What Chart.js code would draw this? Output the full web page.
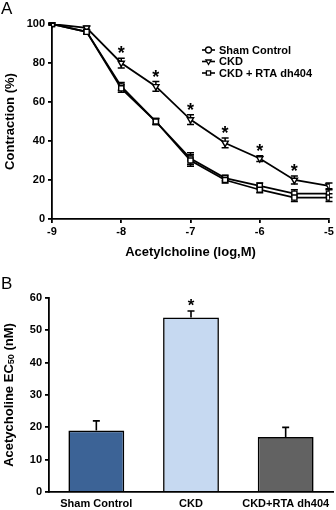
<!DOCTYPE html>
<html><head><meta charset="utf-8">
<script src="https://cdn.jsdelivr.net/npm/chart.js@4"></script>
<style>
html,body{margin:0;padding:0;background:#fff;}
body{width:336px;height:510px;position:relative;overflow:hidden;font-family:"Liberation Sans",Arial,sans-serif;}
#wa{position:absolute;left:0;top:0;width:336px;height:262px;}
#wb{position:absolute;left:0;top:262px;width:336px;height:248px;}
.lab{position:absolute;font-size:17px;color:#000;line-height:1;}
</style></head><body>
<div id="wa"><canvas id="ca"></canvas></div>
<div id="wb"><canvas id="cb"></canvas></div>
<div class="lab" style="left:1px;top:0px;">A</div>
<div class="lab" style="left:1px;top:275px;">B</div>
<script>
// ---- Panel A data ----
const xVals = [-9, -8.5, -8, -7.5, -7, -6.5, -6, -5.5, -5];
const shamVals = [100, 96, 67, 50, 30, 20, 15, 11, 11];
const shamErr = [0.5, 1, 2, 1.5, 3, 1.5, 1.5, 2, 2];
const ckdVals = [100, 98, 80, 68, 51, 39, 31, 20, 17];
const ckdErr = [0.5, 1, 2.5, 2.5, 2.5, 2.5, 1.5, 2, 1.5];
const rtaVals = [100, 96, 68, 50, 31, 21, 17, 13, 13];
const rtaErr = [0.5, 1, 2, 1.5, 3, 1.5, 1.5, 2, 2];
const ckdSig = [0, 0, 1, 1, 1, 1, 1, 1, 0];
const seriesNames = ['Sham Control', 'CKD', 'CKD + RTA dh404'];
const xTicks = [-9, -8, -7, -6, -5];
const yTicksA = [0, 20, 40, 60, 80, 100];
// ---- Panel B data ----
const groups = ['Sham Control', 'CKD', 'CKD+RTA dh404'];
const ec50 = [19, 54, 17];
const ec50Err = [3, 2, 3];
const ec50Sig = [0, 1, 0];

const FONT = '"Liberation Sans", Arial, sans-serif';
Chart.defaults.font.family = FONT;
Chart.defaults.color = '#000';

const pts = v => xVals.map((x, i) => ({x, y: v[i]}));
const legendStyles = [['circle', 0], ['triangle', 180], ['rect', 0]];

const errorBarsA = {
  id: 'errA',
  beforeDatasetsDraw(chart) {
    const ctx = chart.ctx, ys = chart.scales.y;
    ctx.save();
    ctx.strokeStyle = '#000'; ctx.lineWidth = 1.5;
    chart.data.datasets.forEach((ds, di) => {
      const meta = chart.getDatasetMeta(di);
      meta.data.forEach((p, i) => {
        const v = ds.data[i].y, e = ds.errors[i];
        const y1 = ys.getPixelForValue(v + e), y2 = ys.getPixelForValue(v - e);
        ctx.beginPath();
        ctx.moveTo(p.x, y1); ctx.lineTo(p.x, y2);
        ctx.moveTo(p.x - 3.5, y1); ctx.lineTo(p.x + 3.5, y1);
        ctx.moveTo(p.x - 3.5, y2); ctx.lineTo(p.x + 3.5, y2);
        ctx.stroke();
      });
    });
    ctx.restore();
  },
  afterDatasetsDraw(chart) {
    const ctx = chart.ctx, ys = chart.scales.y;
    const di = 1, ds = chart.data.datasets[di], meta = chart.getDatasetMeta(di);
    ctx.save();
    ctx.fillStyle = '#000';
    ctx.font = 'bold 18px ' + FONT;
    ctx.textAlign = 'center'; ctx.textBaseline = 'alphabetic';
    meta.data.forEach((p, i) => {
      if (!ckdSig[i]) return;
      const yt = ys.getPixelForValue(ds.data[i].y + ds.errors[i]);
      ctx.fillText('*', p.x, yt + 1);
    });
    // legend
    const lx = 202, tx = 219, ly = [50, 61.5, 73];
    ctx.textAlign = 'left'; ctx.textBaseline = 'middle';
    chart.data.datasets.forEach((d, k) => {
      const y = ly[k];
      ctx.strokeStyle = '#000'; ctx.lineWidth = 1.6;
      ctx.beginPath(); ctx.moveTo(lx, y); ctx.lineTo(lx + 13, y); ctx.stroke();
      ctx.fillStyle = '#fff'; ctx.strokeStyle = '#000'; ctx.lineWidth = 1.3;
      Chart.helpers.drawPoint(ctx, {pointStyle: legendStyles[k][0], radius: 3, rotation: legendStyles[k][1], borderWidth: 1.3}, lx + 6.5, y);
      ctx.fillStyle = '#000';
      ctx.font = 'bold 11px ' + FONT;
      ctx.fillText(seriesNames[k], tx, y + 0.5);
    });
    ctx.restore();
  }
};

function markerOpts(style, rot) {
  return {
    pointStyle: style, pointRotation: rot || 0, pointRadius: 3.6,
    pointBackgroundColor: '#fff', pointBorderColor: '#000', pointBorderWidth: 1.4,
    borderColor: '#000', borderWidth: 1.8, fill: false, tension: 0
  };
}

new Chart(document.getElementById('ca'), {
  type: 'line',
  data: {
    datasets: [
      Object.assign({label: seriesNames[0], data: pts(shamVals), errors: shamErr}, markerOpts('rect')),
      Object.assign({label: seriesNames[1], data: pts(ckdVals), errors: ckdErr}, markerOpts('triangle', 180)),
      Object.assign({label: seriesNames[2], data: pts(rtaVals), errors: rtaErr}, markerOpts('rect'))
    ]
  },
  options: {
    responsive: true, maintainAspectRatio: false, animation: false,
    layout: {padding: {top: 24, right: 7, left: 0, bottom: 0}},
    plugins: {legend: {display: false}, tooltip: {enabled: false}},
    scales: {
      x: {
        type: 'linear', min: -9, max: -5,
        afterBuildTicks: s => { s.ticks = xTicks.map(v => ({value: v})); },
        afterFit: s => { s.height = 43; },
        border: {color: '#000', width: 1.8},
        grid: {drawOnChartArea: false, drawTicks: true, tickLength: 4, color: '#000', lineWidth: 1.8},
        ticks: {font: {size: 11, weight: 'bold'}, padding: 2, maxRotation: 0},
        title: {display: true, text: 'Acetylcholine (log,M)', font: {size: 13, weight: 'bold'}, padding: {top: 2, bottom: 2}}
      },
      y: {
        min: 0, max: 100,
        afterBuildTicks: s => { s.ticks = yTicksA.map(v => ({value: v})); },
        afterFit: s => { s.width = 52; },
        border: {color: '#000', width: 1.8},
        grid: {drawOnChartArea: false, drawTicks: true, tickLength: 4, color: '#000', lineWidth: 1.8},
        ticks: {font: {size: 11, weight: 'bold'}, padding: 3},
        title: {display: true, text: 'Contraction (%)', font: {size: 13, weight: 'bold'}, padding: {top: 3, bottom: 2}}
      }
    }
  },
  plugins: [errorBarsA]
});

const barExtras = {
  id: 'barExtras',
  afterDatasetsDraw(chart) {
    const ctx = chart.ctx, ys = chart.scales.y, meta = chart.getDatasetMeta(0);
    ctx.save();
    ctx.strokeStyle = '#000'; ctx.lineWidth = 1.6;
    meta.data.forEach((b, i) => {
      const top = ys.getPixelForValue(ec50[i]), et = ys.getPixelForValue(ec50[i] + ec50Err[i]);
      ctx.beginPath();
      ctx.moveTo(b.x, top); ctx.lineTo(b.x, et);
      ctx.moveTo(b.x - 3.5, et); ctx.lineTo(b.x + 3.5, et);
      ctx.stroke();
      if (ec50Sig[i]) {
        ctx.fillStyle = '#000';
        ctx.font = 'bold 17px ' + FONT;
        ctx.textAlign = 'center'; ctx.textBaseline = 'alphabetic';
        ctx.fillText('*', b.x, et);
      }
    });
    // y axis title with subscript
    const cy = (chart.chartArea.top + chart.chartArea.bottom) / 2;
    ctx.translate(9, cy);
    ctx.rotate(-Math.PI / 2);
    ctx.fillStyle = '#000';
    ctx.textBaseline = 'middle'; ctx.textAlign = 'left';
    const f1 = 'bold 13px ' + FONT, f2 = 'bold 9px ' + FONT;
    const p1 = 'Acetycholine EC', p2 = '50', p3 = ' (nM)';
    ctx.font = f1; const w1 = ctx.measureText(p1).width, w3 = ctx.measureText(p3).width;
    ctx.font = f2; const w2 = ctx.measureText(p2).width;
    let x = -(w1 + w2 + w3) / 2;
    ctx.font = f1; ctx.fillText(p1, x, 0); x += w1;
    ctx.font = f2; ctx.fillText(p2, x, 3); x += w2;
    ctx.font = f1; ctx.fillText(p3, x, 0);
    ctx.restore();
  }
};

new Chart(document.getElementById('cb'), {
  type: 'bar',
  data: {
    labels: groups,
    datasets: [{
      data: ec50,
      backgroundColor: ['#3c6396', '#c6d9f1', '#626262'],
      borderColor: '#000', borderWidth: 1.6,
      barPercentage: 0.59, categoryPercentage: 1
    }]
  },
  options: {
    responsive: true, maintainAspectRatio: false, animation: false,
    layout: {padding: {top: 36, right: 3, left: 0, bottom: 0}},
    plugins: {legend: {display: false}, tooltip: {enabled: false}},
    scales: {
      x: {
        afterFit: s => { s.height = 18; },
        border: {color: '#000', width: 1.8},
        grid: {display: false, drawTicks: false},
        ticks: {font: {size: 11, weight: 'bold'}, padding: 5, maxRotation: 0}
      },
      y: {
        min: 0, max: 60,
        afterFit: s => { s.width = 49; },
        border: {color: '#000', width: 1.8},
        grid: {drawOnChartArea: false, drawTicks: true, tickLength: 4, color: '#000', lineWidth: 1.8},
        ticks: {stepSize: 10, font: {size: 11, weight: 'bold'}, padding: 3}
      }
    }
  },
  plugins: [barExtras]
});
</script>
</body></html>
